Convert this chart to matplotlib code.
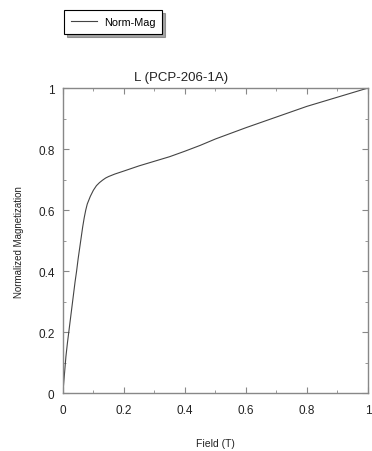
import matplotlib
matplotlib.use("Agg")
import matplotlib.pyplot as plt
from matplotlib.ticker import MultipleLocator

# Data
field = [0.0, 0.005, 0.01, 0.015, 0.02, 0.025, 0.03, 0.035, 0.04, 0.045, 0.05, 0.055,
         0.06, 0.065, 0.07, 0.075, 0.08, 0.09, 0.1, 0.11, 0.12, 0.13, 0.14, 0.15,
         0.17, 0.2, 0.25, 0.3, 0.35, 0.4, 0.45, 0.5, 0.6, 0.7, 0.8, 0.9, 1.0]
mag = [0.0, 0.06, 0.12, 0.165, 0.205, 0.245, 0.285, 0.325, 0.365, 0.4, 0.44, 0.475,
       0.51, 0.545, 0.575, 0.6, 0.62, 0.645, 0.665, 0.68, 0.69, 0.698, 0.705, 0.71,
       0.718, 0.728, 0.745, 0.76, 0.775, 0.793, 0.812, 0.833, 0.87, 0.905, 0.94, 0.97, 1.0]

ticks = [0, 0.2, 0.4, 0.6, 0.8, 1]
tick_labels = ['0', '0.2', '0.4', '0.6', '0.8', '1']

plt.rcParams['font.family'] = ['Liberation Sans', 'DejaVu Sans']

fig = plt.figure(figsize=(3.72, 4.52), dpi=100)
ax = fig.add_axes([0.169, 0.128, 0.820, 0.675])

line, = ax.plot(field, mag, color='#444444', linewidth=0.8, label='Norm-Mag')

ax.set_xlim(0, 1)
ax.set_ylim(0, 1)
ax.set_xticks(ticks, tick_labels)
ax.set_yticks(ticks, tick_labels)
ax.xaxis.set_minor_locator(MultipleLocator(0.1))
ax.yaxis.set_minor_locator(MultipleLocator(0.1))
ax.tick_params(which='both', direction='in', top=True, right=True,
               color='#888888', labelsize=8.5, labelcolor='#222222')
ax.tick_params(which='major', length=4, pad=6)
ax.tick_params(axis='x', which='major', pad=8)
ax.tick_params(which='minor', length=2.5)
for s in ax.spines.values():
    s.set_color('#888888')
    s.set_linewidth(1.0)

# title sits left of the axes centre in the original
ax.set_title('L (PCP-206-1A)', fontsize=9.5, color='#222222', pad=6, x=0.387)
ax.set_xlabel('Field (T)', fontsize=7.5, color='#222222', labelpad=16)
ax.set_ylabel('Normalized Magnetization', fontsize=7, color='#222222', labelpad=10)

leg = fig.legend(handles=[line], loc='upper left', bbox_to_anchor=(0.158, 0.988),
                 fontsize=7.8, frameon=True, fancybox=False, shadow=True,
                 handlelength=2.4, handletextpad=0.6, borderpad=0.65)
leg.get_frame().set_edgecolor('black')
leg.get_frame().set_linewidth(0.8)

fig.savefig('out.png', dpi=100)
